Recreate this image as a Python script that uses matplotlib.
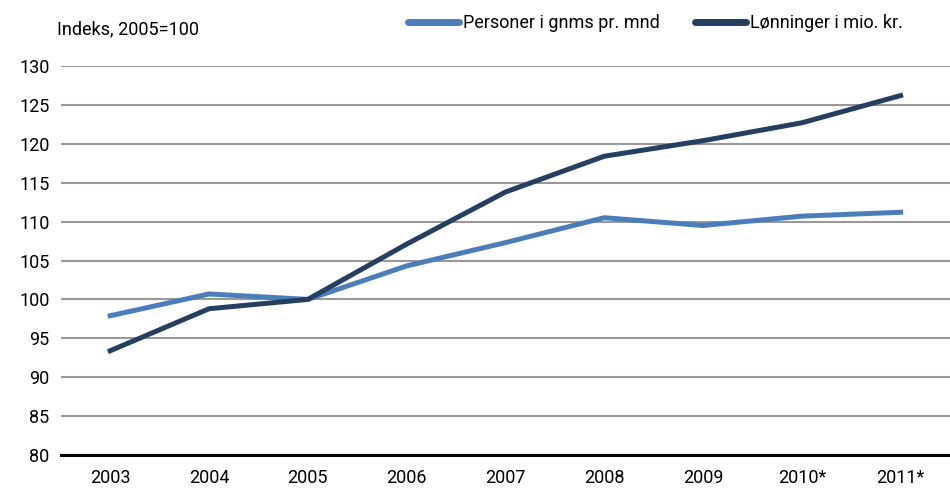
import matplotlib.pyplot as plt

years = ['2003', '2004', '2005', '2006', '2007', '2008', '2009', '2010*', '2011*']
personer = [97.9, 100.7, 100.0, 104.3, 107.3, 110.5, 109.5, 110.7, 111.2]
lonninger = [93.4, 98.8, 100.0, 107.1, 113.8, 118.4, 120.4, 122.7, 126.2]

plt.rcParams['font.family'] = ['Roboto', 'DejaVu Sans']

fig = plt.figure(figsize=(9.5, 4.9), dpi=100)
ax = fig.add_axes([0.064, 0.0714, 0.936, 0.7939])

x = list(range(len(years)))
ax.plot(x, personer, color='#4a7ebb', lw=3.6, label='Personer i gnms pr. mnd', zorder=3)
ax.plot(x, lonninger, color='#243f60', lw=3.6, label='Lønninger i mio. kr.', zorder=4)

ax.set_xlim(-0.5, len(years) - 0.5)
ax.set_ylim(80, 130)
ax.set_yticks(range(80, 131, 5))
ax.set_xticks(x)
ax.set_xticklabels(years)
ax.grid(axis='y', color='#999999', lw=1.5)
ax.set_axisbelow(True)
for s in ['top', 'right', 'left']:
    ax.spines[s].set_visible(False)
ax.spines['bottom'].set_color('black')
ax.spines['bottom'].set_linewidth(2.2)
ax.tick_params(axis='both', length=0, labelsize=13, pad=10)
ax.tick_params(axis='y', pad=8)

fig.text(0.06, 0.94, 'Indeks, 2005=100', fontsize=13, va='center', ha='left')
leg = fig.legend(loc='center', bbox_to_anchor=(0.69, 0.953), ncol=2, frameon=False,
                 fontsize=13, handlelength=2.8, handletextpad=0.2, columnspacing=2.0)
for h in leg.get_lines():
    h.set_linewidth(5)
    h.set_solid_capstyle('round')

plt.savefig('out.png', dpi=100)
